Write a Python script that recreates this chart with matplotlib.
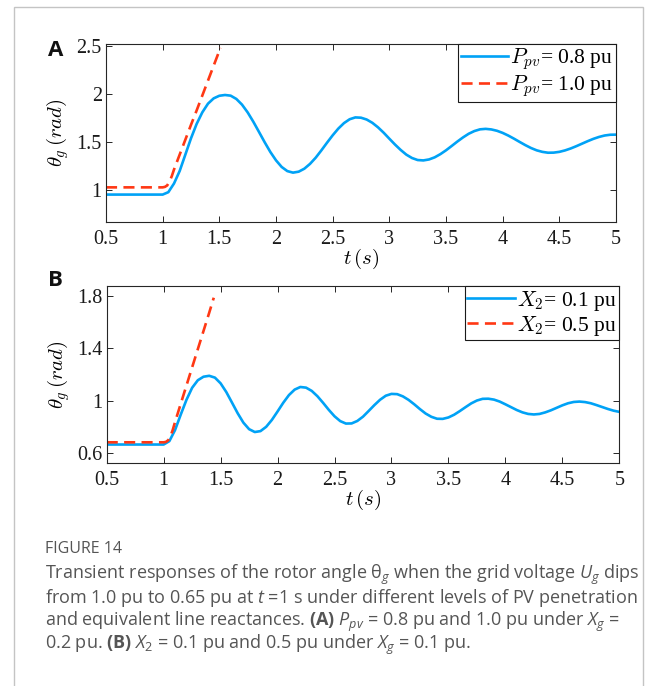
import matplotlib
matplotlib.use("Agg")
import matplotlib.pyplot as plt
from matplotlib.patches import Rectangle

# ---------------- data ----------------
t_grid = [0.50, 1.00, 1.05, 1.10, 1.15, 1.20, 1.25, 1.30, 1.35, 1.40, 1.45,
          1.50, 1.55, 1.60, 1.65, 1.70, 1.75, 1.80, 1.85, 1.90, 1.95,
          2.00, 2.05, 2.10, 2.15, 2.20, 2.25, 2.30, 2.35, 2.40, 2.45,
          2.50, 2.55, 2.60, 2.65, 2.70, 2.75, 2.80, 2.85, 2.90, 2.95,
          3.00, 3.05, 3.10, 3.15, 3.20, 3.25, 3.30, 3.35, 3.40, 3.45,
          3.50, 3.55, 3.60, 3.65, 3.70, 3.75, 3.80, 3.85, 3.90, 3.95,
          4.00, 4.05, 4.10, 4.15, 4.20, 4.25, 4.30, 4.35, 4.40, 4.45,
          4.50, 4.55, 4.60, 4.65, 4.70, 4.75, 4.80, 4.85, 4.90, 4.95, 5.00]

theta_A_ppv08 = [0.955, 0.955, 0.980, 1.070, 1.200, 1.370, 1.540, 1.690, 1.810, 1.900, 1.955,
                 1.982, 1.990, 1.983, 1.949, 1.890, 1.809, 1.712, 1.606, 1.499, 1.398,
                 1.311, 1.242, 1.199, 1.183, 1.193, 1.224, 1.274, 1.338, 1.414, 1.494,
                 1.571, 1.641, 1.698, 1.738, 1.757, 1.754, 1.735, 1.701, 1.654, 1.598,
                 1.536, 1.475, 1.419, 1.370, 1.335, 1.314, 1.310, 1.320, 1.342, 1.375,
                 1.415, 1.460, 1.506, 1.549, 1.587, 1.615, 1.633, 1.638, 1.632, 1.618,
                 1.596, 1.568, 1.536, 1.502, 1.469, 1.439, 1.415, 1.399, 1.390, 1.391,
                 1.399, 1.414, 1.434, 1.458, 1.484, 1.510, 1.534, 1.554, 1.569, 1.577, 1.578]

t_A_red = [0.50, 1.00, 1.02, 1.04, 1.06, 1.08, 1.10, 1.15, 1.20, 1.25, 1.30, 1.35, 1.40, 1.45, 1.51]
theta_A_ppv10 = [1.030, 1.030, 1.035, 1.050, 1.090, 1.145, 1.215, 1.370, 1.525, 1.680, 1.830,
                 1.985, 2.140, 2.295, 2.480]

theta_B_x01 = [0.662, 0.662, 0.688, 0.773, 0.892, 1.005, 1.098, 1.156, 1.183, 1.190, 1.176,
               1.132, 1.065, 0.984, 0.902, 0.830, 0.780, 0.758, 0.765, 0.798, 0.851,
               0.916, 0.983, 1.042, 1.084, 1.104, 1.099, 1.074, 1.033, 0.982, 0.928,
               0.879, 0.842, 0.823, 0.824, 0.843, 0.876, 0.920, 0.965, 1.006, 1.037,
               1.051, 1.049, 1.032, 1.005, 0.971, 0.934, 0.900, 0.875, 0.860, 0.859,
               0.870, 0.891, 0.919, 0.949, 0.978, 1.000, 1.013, 1.014, 1.007, 0.992,
               0.971, 0.949, 0.927, 0.909, 0.897, 0.893, 0.897, 0.909, 0.925, 0.944,
               0.963, 0.979, 0.989, 0.992, 0.988, 0.979, 0.965, 0.950, 0.935, 0.922, 0.913]

t_B_red = [0.50, 1.00, 1.02, 1.04, 1.06, 1.08, 1.10, 1.15, 1.20, 1.25, 1.30, 1.35, 1.40, 1.44]
theta_B_x05 = [0.679, 0.679, 0.682, 0.695, 0.725, 0.775, 0.835, 0.975, 1.115, 1.255, 1.395,
               1.535, 1.675, 1.790]

xticks = [0.5, 1, 1.5, 2, 2.5, 3, 3.5, 4, 4.5, 5]
xtick_labels = ["0.5", "1", "1.5", "2", "2.5", "3", "3.5", "4", "4.5", "5"]
yticks_A = [1, 1.5, 2, 2.5]
ytick_labels_A = ["1", "1.5", "2", "2.5"]
yticks_B = [0.6, 1.0, 1.4, 1.8]
ytick_labels_B = ["0.6", "1", "1.4", "1.8"]

legend_A = [r"$P_{pv}$= 0.8 pu", r"$P_{pv}$= 1.0 pu"]
legend_B = [r"$X_2$= 0.1 pu", r"$X_2$= 0.5 pu"]

# ---------------- style ----------------
W, H = 656, 686
plt.rcParams["font.family"] = ["Liberation Serif", "DejaVu Serif"]
plt.rcParams["mathtext.fontset"] = "cm"
plt.rcParams["mathtext.rm"] = "Open Sans"
plt.rcParams["mathtext.it"] = "Open Sans:italic"
plt.rcParams["mathtext.bf"] = "Open Sans:bold"

BLUE = "#00A2F6"
RED = "#FF3814"
SPINE = "#262626"

fig = plt.figure(figsize=(W / 100, H / 100), dpi=100)


def box(l, t, r, b):
    return [l / W, 1 - b / H, (r - l) / W, (b - t) / H]


# outer frame
fig.patches.append(Rectangle((14 / W, -0.05), (643 - 14) / W, 1.05 - 7 / H,
                             transform=fig.transFigure, fill=False,
                             edgecolor="#c4c4c4", lw=1.0))


def style_axes(ax, yt, ytl, ylim):
    ax.set_xlim(0.5, 5)
    ax.set_ylim(*ylim)
    ax.set_xticks(xticks)
    ax.set_xticklabels(xtick_labels)
    ax.set_yticks(yt)
    ax.set_yticklabels(ytl)
    ax.tick_params(direction="in", length=4, width=0.7, colors=SPINE,
                   labelsize=14.5, top=True, right=True, labelcolor="#1a1a1a")
    ax.tick_params(axis="x", pad=6)
    ax.tick_params(axis="y", pad=3)
    for s in ax.spines.values():
        s.set_color(SPINE)
        s.set_linewidth(0.8)
    ax.set_xlabel(r"$t\,(s)$", fontsize=15, labelpad=-2)
    ax.set_ylabel(r"$\theta_g\,(rad)$", fontsize=15, labelpad=4)


def add_legend(ax, labels):
    leg = ax.legend(labels, loc="upper right", borderaxespad=0, fontsize=15.5,
                    handlelength=2.2, handletextpad=0.12, borderpad=0.12,
                    labelspacing=0.05, fancybox=False, framealpha=1,
                    edgecolor="#1a1a1a")
    leg.get_frame().set_linewidth(0.8)


# Panel A
axA = fig.add_axes(box(106, 44, 616, 222))
axA.plot(t_grid, theta_A_ppv08, color=BLUE, lw=1.9)
axA.plot(t_A_red, theta_A_ppv10, color=RED, lw=1.9, dashes=(4.2, 2.4))
style_axes(axA, yticks_A, ytick_labels_A, (0.67, 2.52))
add_legend(axA, legend_A)

# Panel B
axB = fig.add_axes(box(106.7, 286, 619.3, 463))
axB.plot(t_grid, theta_B_x01, color=BLUE, lw=1.9)
axB.plot(t_B_red, theta_B_x05, color=RED, lw=1.9, dashes=(4.2, 2.4))
style_axes(axB, yticks_B, ytick_labels_B, (0.52, 1.88))
add_legend(axB, legend_B)

# panel letters
fig.text(48 / W, 1 - 50 / H, "A", family="Open Sans", weight="bold",
         fontsize=16, va="center", ha="left", color="#111111")
fig.text(48 / W, 1 - 280 / H, "B", family="Open Sans", weight="bold",
         fontsize=16, va="center", ha="left", color="#111111")

# caption
CAP = "#555555"
cap_kw = dict(family="Open Sans", math_fontfamily="custom", fontsize=13,
              color=CAP, ha="left", va="center")
fig.text(45 / W, 1 - 549 / H, "FIGURE 14", family="Open Sans", weight="medium",
         fontsize=11.5, color=CAP, ha="left", va="center")
lines = [
    r"Transient responses of the rotor angle $\mathrm{θ}_g$ when the grid voltage $U_g$ dips",
    r"from 1.0 pu to 0.65 pu at $t$ =1 s under different levels of PV penetration",
    r"and equivalent line reactances. $\mathbf{(A)}$ $P_{pv}$ = 0.8 pu and 1.0 pu under $X_g$ =",
    r"0.2 pu. $\mathbf{(B)}$ $X_2$ = 0.1 pu and 0.5 pu under $X_g$ = 0.1 pu.",
]
for i, s in enumerate(lines):
    fig.text(45 / W, 1 - (575 + 23.3 * i) / H, s, **cap_kw)

fig.savefig("out.png", dpi=100)
